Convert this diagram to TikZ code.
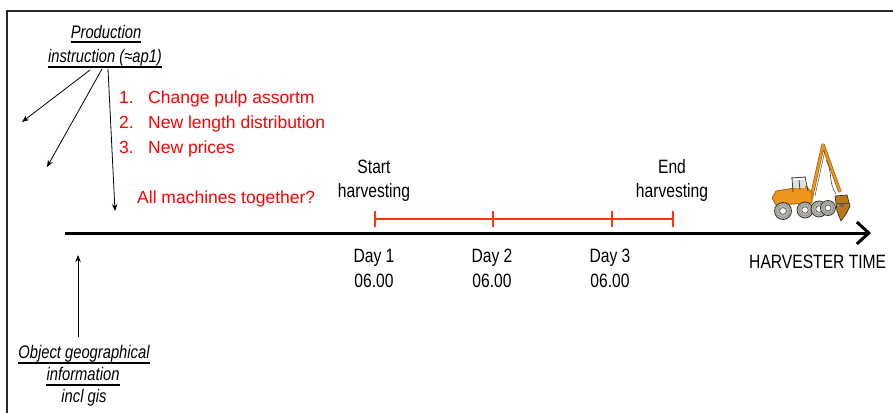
\documentclass[tikz,border=0pt]{standalone}
\usepackage{fontspec}
\setmainfont{Liberation Sans}
\newfontfamily\narrowsans[FakeStretch=0.81]{Liberation Sans}
\usetikzlibrary{arrows.meta}

\definecolor{listred}{RGB}{255,0,0}
\definecolor{spanred}{RGB}{255,55,10}
\definecolor{frameclr}{RGB}{40,40,40}
\definecolor{machine}{RGB}{236,150,28}
\definecolor{machinedark}{RGB}{150,85,10}
\definecolor{tyre}{RGB}{120,115,105}

\begin{document}
\begin{tikzpicture}[x=1pt,y=-1pt,
  lbl/.style={font=\narrowsans\fontsize{19.3}{21}\selectfont, inner sep=0pt, anchor=base},
  ilbl/.style={lbl, font=\narrowsans\itshape\fontsize{18.2}{21}\selectfont},
  redtxt/.style={font=\fontsize{17.5}{20}\selectfont, text=listred, inner sep=0pt, anchor=base west},
  thinarrow/.style={-{Stealth[length=7pt,width=5.5pt]}, line width=0.8pt},
  uline/.style={line width=1.5pt},
  span/.style={draw=spanred, line width=2.2pt},
  wheel/.style={draw=black!80, fill=tyre!55, line width=0.8pt},
]
\useasboundingbox (0,0) rectangle (893,412);

% frame, running off the right and bottom edges
\begin{scope}
  \clip (0,0) rectangle (893,412);
  \draw[frameclr, line width=2pt] (7,430) -- (7,11) -- (910,11);
\end{scope}

% production instruction label
\node[ilbl] (prod) at (106,38) {Production};
\node[ilbl] (instr) at (105,63) {instruction (≈ap1)};
\draw[uline] ([yshift=-4pt]prod.base west) -- ([yshift=-4pt]prod.base east);
\draw[uline] ([yshift=-4pt]instr.base west) -- ([yshift=-4pt]instr.base east);

\coordinate (a1s) at (90,70);  \coordinate (a1e) at (22,122);
\coordinate (a2s) at (102,69); \coordinate (a2e) at (47,167);
\coordinate (a3s) at (108,69); \coordinate (a3e) at (115,211);
\draw[thinarrow] (a1s) -- (a1e);
\draw[thinarrow] (a2s) -- (a2e);
\draw[thinarrow] (a3s) -- (a3e);

% red list
\node[redtxt] (n1) at (119,103) {1.};
\node[redtxt] (l1) at (148,103) {Change pulp assortm};
\node[redtxt] (n2) at (119,128) {2.};
\node[redtxt] (l2) at (148,128) {New length distribution};
\node[redtxt] (n3) at (119,153) {3.};
\node[redtxt] (l3) at (148,153) {New prices};
\node[redtxt] (q) at (137,203) {All machines together?};

% harvesting span
\coordinate (t0) at (375,219);
\coordinate (t1) at (493,219);
\coordinate (t2) at (612,219);
\coordinate (t3) at (673,219);
\draw[span] (t0) -- (t3);
\foreach \t in {t0,t1,t2,t3}
  \draw[span] ([yshift=8pt]\t) -- ([yshift=-8pt]\t);

\node[lbl] (st1) at (374,173) {Start};
\node[lbl] (st2) at (374,197) {harvesting};
\node[lbl] (en1) at (672,173) {End};
\node[lbl] (en2) at (672,197) {harvesting};

% time axis
\coordinate (axL) at (65,233);
\coordinate (axR) at (871,233);
\draw[line width=3pt, -{Straight Barb[length=12pt,width=22pt]}] (axL) -- (axR);
\node[lbl, anchor=base west] (ht) at (749,268) {HARVESTER TIME};

\node[lbl] (d1) at (374,262) {Day 1};
\node[lbl] (h1) at (374,287) {06.00};
\node[lbl] (d2) at (492,262) {Day 2};
\node[lbl] (h2) at (492,287) {06.00};
\node[lbl] (d3) at (610,262) {Day 3};
\node[lbl] (h3) at (610,287) {06.00};

% object information label
\node[ilbl] (obj) at (84,358) {Object geographical};
\node[ilbl] (inf) at (83,380) {information};
\node[ilbl] (gis) at (84,402) {incl gis};
\draw[uline] ([yshift=-5pt]obj.base west) -- ([yshift=-5pt]obj.base east);
\draw[uline] ([yshift=-5pt]inf.base west) -- ([yshift=-5pt]inf.base east);
\coordinate (ups) at (78,337);
\coordinate (upe) at (78,255);
\draw[thinarrow] (ups) -- (upe);

% harvester machine
\begin{scope}[line join=round]
  % crane boom and stick
  \draw[machinedark, line width=3.4pt] (811,199) -- (823,145) -- (840,192);
  \draw[machine, line width=2.2pt] (811,199) -- (823,145) -- (840,192);
  \draw[black!70, line width=0.5pt] (815,196) -- (825,150);
  \draw[black!70, line width=0.6pt] (826,160) .. controls (833,172) and (828,182) .. (836,194);
  % body
  \draw[machinedark, fill=machine, line width=0.7pt]
    (772,198) -- (776,191) -- (789,189) -- (806,186) -- (812,193) -- (812,203) -- (776,205) -- cycle;
  % cab
  \fill[white!88!black] (793,180) rectangle (805,188);
  \draw[black!75, line width=0.9pt] (791,178) -- (806,177);
  \draw[black!75, line width=0.8pt] (792,178) -- (793,192) (805,177) -- (808,191) (799,180) -- (800,190);
  % wheels
  \foreach \cx/\cy/\r in {783/211/8.5, 805/210/8, 819/209/8, 828/208/7.5}{
    \draw[wheel] (\cx,\cy) circle[radius=\r];
    \draw[black!60, dashed, dash pattern=on 1.2pt off 1.2pt, line width=0.5pt] (\cx,\cy) circle[radius=\r*0.75];
    \draw[black!70, fill=white, line width=0.6pt] (\cx,\cy) circle[radius=\r*0.4];
  }
  % harvester head
  \draw[black!80, fill=machine!80!black, line width=0.7pt]
    (835,196) -- (847,195) -- (850,206) -- (846,214) -- (841,221) -- (837,211) -- cycle;
  \fill[black!60] (842,205) circle[radius=2.2];
  \draw[black!70, line width=0.5pt] (836,203) -- (849,203);
\end{scope}
\end{tikzpicture}
\end{document}
